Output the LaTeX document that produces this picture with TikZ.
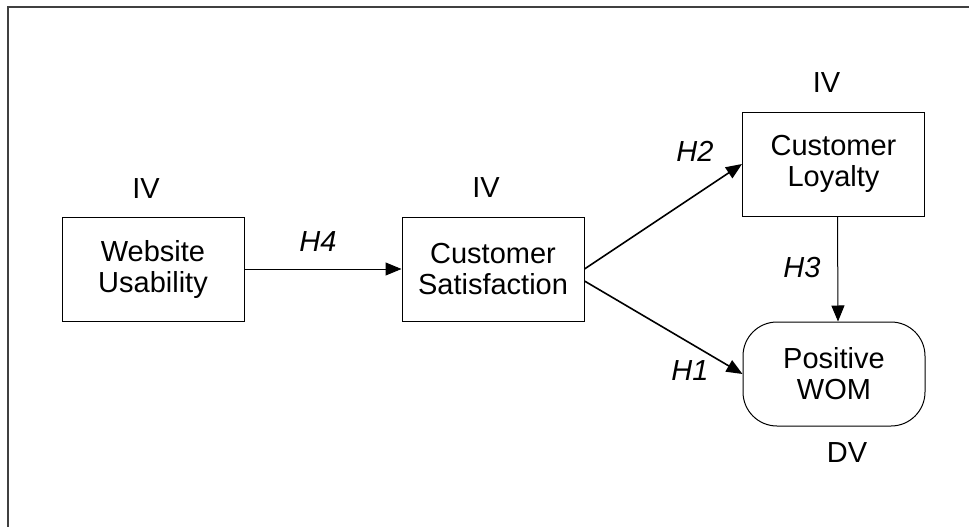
\documentclass[tikz,border=0pt]{standalone}
\usepackage{fontspec}
\setmainfont{Liberation Sans}
\usetikzlibrary{arrows.meta, positioning}

\begin{document}
\begin{tikzpicture}[
        x=1pt, y=-1pt,
        font=\fontsize{29}{31}\selectfont,
        var/.style={draw, line width=1pt, minimum width=182pt, minimum height=104pt, align=center, inner sep=0pt},
        outcome/.style={var, rounded corners=34pt},
        tag/.style={inner sep=0pt},
        hyp/.style={font=\fontsize{29}{31}\selectfont\itshape, inner sep=0pt},
        link/.style={-{Triangle[length=16pt, width=13pt]}, line width=1.6pt},
        thin link/.style={link, line width=1pt}
    ]
        \useasboundingbox (0,0) rectangle (969,527);
        \draw[line width=2pt, draw=black!75] (8,527) -- (8,7) -- (969,7);

        \node[var] (web) at (153,269) {Website\\Usability};
        \node[var] (sat) at (493,269) {Customer\\Satisfaction};
        \node[var] (loy) at (833.5,164) {Customer\\Loyalty};
        \node[outcome] (wom) at (834,374) {Positive\\WOM};

        \node[tag, above=18pt of web, xshift=-7pt] (webiv) {IV};
        \node[tag, above=19pt of sat, xshift=-7pt] (sativ) {IV};
        \node[tag, above=19pt of loy, xshift=-7pt] (loyiv) {IV};
        \node[tag, below=16pt of wom, xshift=13pt] (womdv) {DV};

        \draw[thin link] (web.east) -- (sat.west);
        \draw[link] (sat.east) -- (loy.west);
        \draw[link] ([yshift=-12pt]sat.east) -- (wom.west);
        \draw[thin link] ([xshift=4pt]loy.south) -- ([xshift=4pt]wom.north);

        \node[hyp] (h4) at (318,242) {H4};
        \node[hyp] (h2) at (695,151) {H2};
        \node[hyp] (h3) at (802,268) {H3};
        \node[hyp] (h1) at (690,371) {H1};
    \end{tikzpicture}
\end{document}
